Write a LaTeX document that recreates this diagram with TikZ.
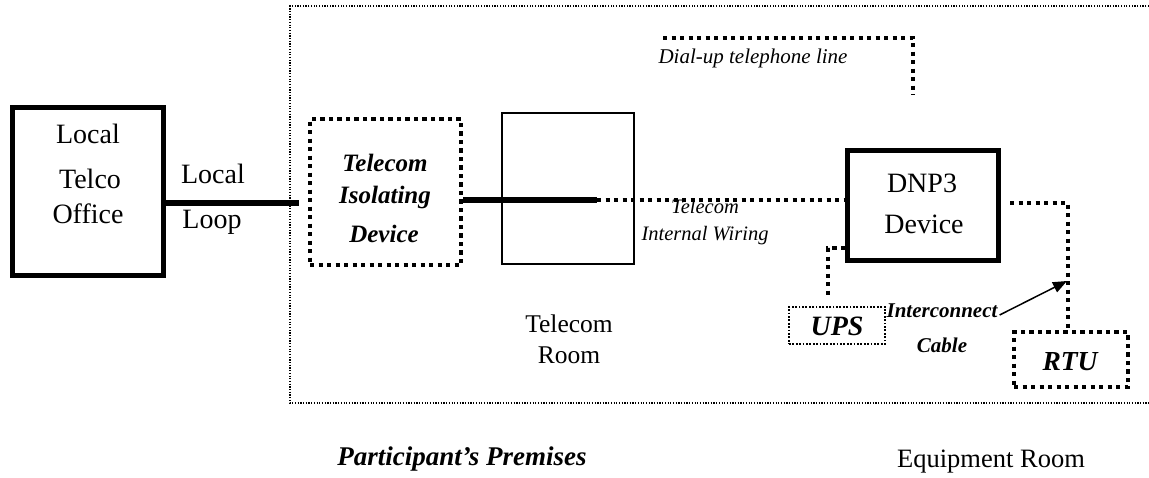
\documentclass[tikz,border=0pt]{standalone}
\usepackage{fontspec}
\setmainfont{Liberation Serif}
\usetikzlibrary{arrows.meta,calc}

\tikzset{
  solidbox/.style={draw, line width=5pt, rectangle, inner sep=0pt},
  thinbox/.style={draw, line width=1.6pt, rectangle, inner sep=0pt},
  heavydotbox/.style={draw, line width=4pt, dash pattern=on 4.2pt off 4.3pt, rectangle, inner sep=0pt},
  lightdotbox/.style={draw, line width=2pt, dash pattern=on 1.8pt off 1.6pt, rectangle, inner sep=0pt},
  solidthick/.style={line width=5.5pt},
  heavydots/.style={line width=4pt, dash pattern=on 4.2pt off 4.3pt},
  framedots/.style={line width=1.3pt, dash pattern=on 1.2pt off 1.5pt},
  pointer/.style={line width=1.5pt, -{Triangle[length=14pt,width=11pt]}},
  txt/.style={inner sep=0pt, anchor=base},
  plain/.style={txt, font=\fontsize{28}{32}\selectfont},
  roomlbl/.style={txt, font=\fontsize{25.5}{30}\selectfont},
  bolditlbl/.style={txt, font=\fontsize{25}{30}\selectfont\bfseries\itshape},
  smallit/.style={txt, font=\fontsize{20.5}{24}\selectfont\itshape},
  smallbi/.style={txt, font=\fontsize{21}{24}\selectfont\bfseries\itshape},
}

\begin{document}
\begin{tikzpicture}[x=1pt, y=-1pt]
\useasboundingbox (0,0) rectangle (1149,477);

% premises boundary (open on the right)
\draw[framedots] (1149,6) -- (290,6) -- (290,403) -- (1149,403);

% boxes
\node[solidbox, minimum width=151pt, minimum height=168pt] (telco) at (88,191.5) {};
\node[heavydotbox, minimum width=151pt, minimum height=146pt] (iso) at (385.5,192) {};
\node[thinbox, minimum width=132pt, minimum height=151pt] (room) at (568,188.5) {};
\node[solidbox, minimum width=151pt, minimum height=110pt] (dnp) at (923,205.5) {};
\node[lightdotbox, minimum width=96pt, minimum height=37pt] (ups) at (837,325.5) {};
\node[heavydotbox, minimum width=114pt, minimum height=55pt] (rtu) at (1071,359.5) {};

% box labels
\node[plain] at (88,143) {Local};
\node[plain] at (90,188) {Telco};
\node[plain] at (88,223) {Office};

\node[bolditlbl] at (385,171) {Telecom};
\node[bolditlbl] at (385,203) {Isolating};
\node[bolditlbl] at (384,242) {Device};

\node[plain] at (922,192) {DNP3};
\node[plain] at (924,233) {Device};

\node[txt, font=\fontsize{28}{32}\selectfont\bfseries\itshape] at (837,335) {UPS};
\node[txt, font=\fontsize{27.5}{32}\selectfont\bfseries\itshape] at (1070,370) {RTU};

% local loop
\coordinate (loopend) at (299,203);
\draw[solidthick] (telco.east |- loopend) -- (loopend);
\node[plain] at (213,183) {Local};
\node[plain] at (212,228) {Loop};

% isolating device to DNP3 device
\coordinate (splice) at (597,200);
\draw[solidthick] (iso.east |- splice) -- (splice);
\draw[heavydots] (splice) -- (dnp.west |- splice);
\node[smallit] at (705,213) {Telecom};
\node[smallit] at (705,240) {Internal Wiring};

% dial-up line
\coordinate (dialA) at (663,38);
\coordinate (dialB) at (913,38);
\coordinate (dialC) at (913,95);
\draw[heavydots] (dialA) -- (dialB) -- (dialC);
\node[txt, font=\fontsize{21}{24}\selectfont\itshape] at (753,63) {Dial-up telephone line};

% DNP3 device to RTU
\coordinate (rtuA) at (1010,203);
\coordinate (rtuB) at (1068,203);
\draw[heavydots] (rtuA) -- (rtuB) -- (rtuB |- rtu.north);

% DNP3 device to UPS
\coordinate (upsB) at (828,248);
\coordinate (upsC) at (828,295);
\draw[heavydots] (dnp.west |- upsB) -- (upsB) -- (upsC);

% interconnect cable label
\node[smallbi] (icx) at (942,317) {Interconnect};
\node[smallbi] at (942,352) {Cable};
\coordinate (arrowtip) at (1067,281);
\draw[pointer] ($(icx.base east)+(2,-2)$) -- (arrowtip);

% room labels
\node[roomlbl] at (569,332) {Telecom};
\node[roomlbl] at (569,363) {Room};
\node[txt, font=\fontsize{27}{32}\selectfont\bfseries\itshape] at (462,465) {Participant’s Premises};
\node[txt, font=\fontsize{26.5}{32}\selectfont] at (991,467) {Equipment Room};
\end{tikzpicture}
\end{document}
